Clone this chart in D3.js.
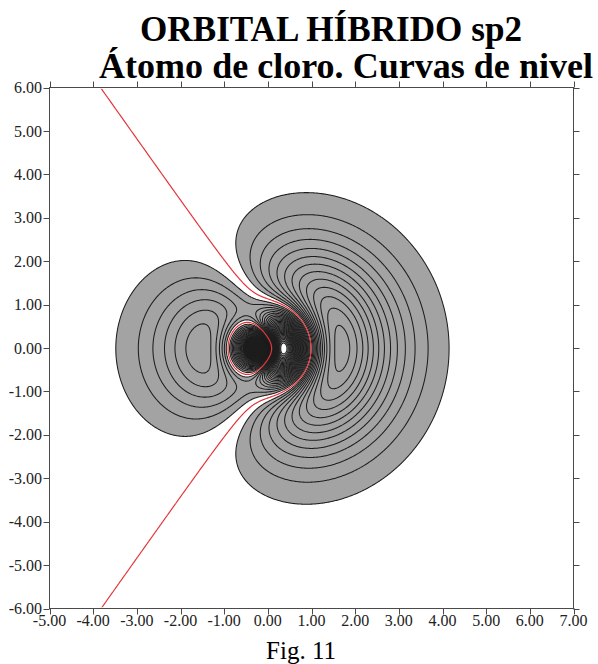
<!DOCTYPE html>
<html>
<head>
<meta charset="utf-8">
<script src="https://cdn.jsdelivr.net/npm/d3@7"></script>
<style>
html, body { margin: 0; padding: 0; background: #ffffff; }
svg { display: block; }
</style>
</head>
<body>
<svg id="chart" width="598" height="664"></svg>
<script>
// ---------- data ----------
const titleLines = ["ORBITAL HÍBRIDO sp2", "Átomo de cloro. Curvas de nivel"];
const caption = "Fig. 11";
const xTicks = [-5, -4, -3, -2, -1, 0, 1, 2, 3, 4, 5, 6, 7];
const yTicks = [6, 5, 4, 3, 2, 1, 0, -1, -2, -3, -4, -5, -6];
const xDomain = [-5, 7];
const yDomain = [-6, 6];

// contour levels of the orbital function (arbitrary units)
const positiveLevels = [0.5, 1, 1.5, 2, 2.5, 3, 3.5, 4, 4.5, 5, 5.5, 6, 6.5, 7, 7.5, 8, 8.5, 9, 9.5, 10,
  10.5, 11, 11.5, 12, 12.5, 13, 13.5, 14, 14.5, 15, 15.5, 16, 16.5, 17, 17.5, 18, 18.5, 19, 19.5, 20,
  20.5, 21, 21.5, 22, 22.5, 23, 23.5, 24, 24.5, 25, 25.5, 26, 26.5];
const negativeLevels = [-0.5, -1, -1.5, -2, -2.5, -3, -3.5, -4, -4.5, -5, -5.5, -6, -6.5, -7, -7.5,
  -8, -8.5, -9, -9.5, -10, -10.5, -11, -11.5, -12, -12.5, -13, -13.5, -14, -14.5, -15];
const nodeLevels = [0];
// level above which contour lines merge into solid black (core of the orbital)
const denseCoreLevel = [7];

// sp2 hybrid of chlorine: hydrogen-like 3s + 3p_x, parameters
const nucleusX = -0.05;
const zEff = 6.14;
const pWeight = 3.48;
const gridStep = 0.02;

// ---------- layout ----------
const svg = d3.select("#chart");
const plot = { left: 49.5, right: 573.5, top: 87.5, bottom: 608.5 };
const x = d3.scaleLinear().domain(xDomain).range([plot.left, plot.right]);
const y = d3.scaleLinear().domain(yDomain).range([plot.bottom, plot.top]);

// ---------- field ----------
const nx = Math.round((xDomain[1] - xDomain[0]) / gridStep) + 1;
const ny = Math.round((yDomain[1] - yDomain[0]) / gridStep) + 1;
const psi = new Float64Array(nx * ny);
const negPsi = new Float64Array(nx * ny);
for (let j = 0; j < ny; j++) {
  const yy = yDomain[1] - j * gridStep;
  for (let i = 0; i < nx; i++) {
    const xx = xDomain[0] + i * gridStep;
    const dx = xx - nucleusX;
    const rho = zEff * Math.hypot(dx, yy);
    const v = Math.exp(-rho / 3) * ((27 - 18 * rho + 2 * rho * rho) + pWeight * (rho - 6) * zEff * dx);
    psi[j * nx + i] = v;
    negPsi[j * nx + i] = -v;
  }
}

const gen = d3.contours().size([nx, ny]);
const proj = d3.geoTransform({
  point(cx, cy) {
    this.stream.point(x(xDomain[0] + cx * gridStep), y(yDomain[1] - cy * gridStep));
  }
});
const path = d3.geoPath(proj);

// clips
const defs = svg.append("defs");
defs.append("clipPath").attr("id", "plotClip").append("rect")
  .attr("x", plot.left).attr("y", plot.top)
  .attr("width", plot.right - plot.left).attr("height", plot.bottom - plot.top);
defs.append("clipPath").attr("id", "innerClip").append("rect")
  .attr("x", plot.left + 1.2).attr("y", plot.top + 1.2)
  .attr("width", plot.right - plot.left - 2.4).attr("height", plot.bottom - plot.top - 2.4);

const g = svg.append("g").attr("clip-path", "url(#plotClip)");

// gray fill where |psi| >= lowest level
const lowest = positiveLevels[0];
g.append("path").attr("d", path(gen.contour(psi, lowest))).attr("fill", "#a3a3a3");
g.append("path").attr("d", path(gen.contour(negPsi, -negativeLevels[0]))).attr("fill", "#a3a3a3");
// core of very dense contours
g.append("path").attr("d", path(gen.contour(psi, denseCoreLevel[0]))).attr("fill", "#141414");
// values beyond the most negative level are left blank
g.append("path").attr("d", path(gen.contour(negPsi, -negativeLevels[negativeLevels.length - 1])))
  .attr("fill", "#ffffff");

// contour lines
const lines = g.append("g").attr("fill", "none").attr("stroke", "#1e1e1e").attr("stroke-width", 1.05);
positiveLevels.forEach(t => {
  lines.append("path").attr("d", path(gen.contour(psi, t)));
});
negativeLevels.forEach(t => {
  lines.append("path").attr("d", path(gen.contour(negPsi, -t)));
});

// nodal line (psi = 0) in red
const red = svg.append("g").attr("clip-path", "url(#innerClip)");
nodeLevels.forEach(t => {
  red.append("path").attr("d", path(gen.contour(psi, t)))
    .attr("fill", "none").attr("stroke", "#e2363a").attr("stroke-width", 1.2);
});

// ---------- axes ----------
const axisColor = "#4a4a4a";
const ax = svg.append("g").attr("stroke", axisColor).attr("stroke-width", 1).attr("fill", "none");
ax.append("rect").attr("x", plot.left).attr("y", plot.top)
  .attr("width", plot.right - plot.left).attr("height", plot.bottom - plot.top);
const tl = 6;
xTicks.forEach(v => {
  const px = Math.round(x(v)) + 0.5;
  ax.append("line").attr("x1", px).attr("x2", px).attr("y1", plot.top - tl).attr("y2", plot.top);
  ax.append("line").attr("x1", px).attr("x2", px).attr("y1", plot.bottom).attr("y2", plot.bottom + tl);
});
yTicks.forEach(v => {
  const py = Math.round(y(v)) + 0.5;
  ax.append("line").attr("x1", plot.left - tl).attr("x2", plot.left).attr("y1", py).attr("y2", py);
  ax.append("line").attr("x1", plot.right).attr("x2", plot.right + tl).attr("y1", py).attr("y2", py);
});

const labelFont = "'Liberation Serif', 'Times New Roman', serif";
svg.append("g").selectAll("text").data(xTicks).join("text")
  .attr("x", d => x(d)).attr("y", 626)
  .attr("text-anchor", "middle")
  .style("font-family", labelFont).style("font-size", "16px").attr("fill", "#222")
  .text(d => d.toFixed(2));
svg.append("g").selectAll("text").data(yTicks).join("text")
  .attr("x", 42).attr("y", d => y(d)).attr("dy", "0.35em")
  .attr("text-anchor", "end")
  .style("font-family", labelFont).style("font-size", "16px").attr("fill", "#222")
  .text(d => d.toFixed(2));

// ---------- titles ----------
const titleSpecs = [
  { x: 140, y: 40.8, len: 382 },
  { x: 99, y: 77.8, len: 494 }
];
titleLines.forEach((t, i) => {
  svg.append("text")
    .attr("x", titleSpecs[i].x).attr("y", titleSpecs[i].y)
    .attr("textLength", titleSpecs[i].len).attr("lengthAdjust", "spacingAndGlyphs")
    .style("font-family", labelFont).style("font-weight", "bold").style("font-size", "36px")
    .attr("fill", "#000").text(t);
});
svg.append("text").attr("x", 301).attr("y", 659).attr("text-anchor", "middle")
  .style("font-family", labelFont).style("font-size", "25px").attr("fill", "#000")
  .text(caption);
</script>
</body>
</html>
